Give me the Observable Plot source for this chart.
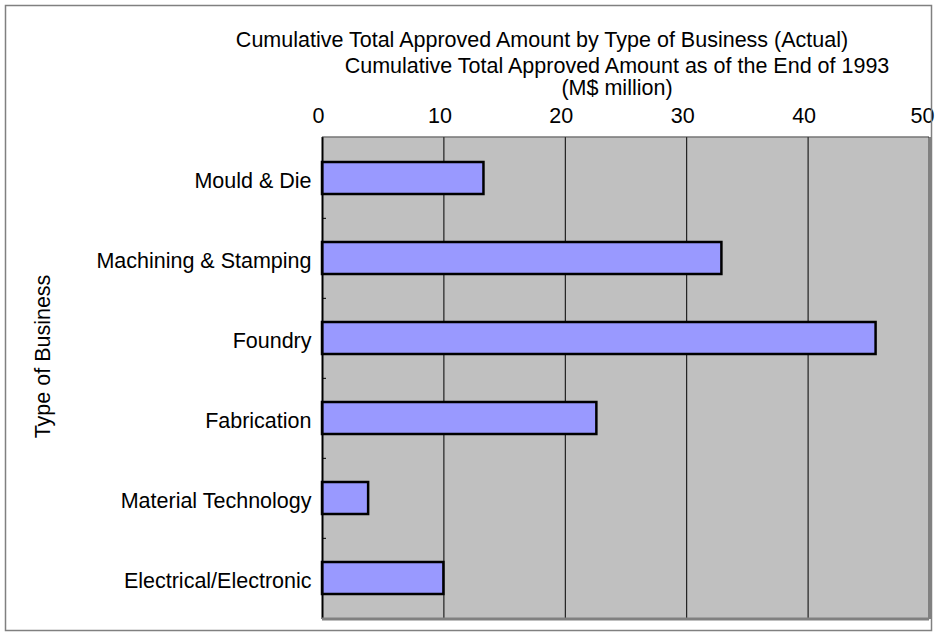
<!DOCTYPE html>
<html>
<head>
<meta charset="utf-8">
<script src="https://cdn.jsdelivr.net/npm/d3@7"></script>
<script src="https://cdn.jsdelivr.net/npm/@observablehq/plot@0.6"></script>
<style>
  html, body { margin: 0; padding: 0; background: white; }
</style>
</head>
<body>
<div id="chart"></div>
<script>
const categories = ["Mould & Die", "Machining & Stamping", "Foundry", "Fabrication", "Material Technology", "Electrical/Electronic"];
const values = [13.3, 32.9, 45.6, 22.6, 3.8, 10.0];
const xTicks = [0, 10, 20, 30, 40, 50];
const title = "Cumulative Total Approved Amount by Type of Business (Actual)";
const xTitle1 = "Cumulative Total Approved Amount as of the End of 1993";
const xTitle2 = "(M$ million)";
const yTitle = "Type of Business";

const data = categories.map((c, i) => ({category: c, value: values[i]}));

const W = 937, H = 635, mt = 137, mb = 16, ml = 322, mr = 8;
const step = (H - mt - mb) / categories.length;

const plot = Plot.plot({
  width: W, height: H,
  marginLeft: ml, marginRight: mr, marginTop: mt, marginBottom: mb,
  style: {fontFamily: "'Liberation Sans', Arial, sans-serif", fontSize: "21.5px", color: "black", background: "white"},
  x: {domain: [0, 50]},
  y: {domain: categories, paddingInner: 0.6, paddingOuter: 0.3},
  marks: [
    Plot.frame({fill: "#c0c0c0"}),
    Plot.gridX(xTicks.slice(1, -1), {stroke: "black", strokeOpacity: 1, strokeWidth: 1}),
    Plot.ruleX([50], {stroke: "#808080", strokeWidth: 3}),
    Plot.ruleY(categories.slice(1), {y: d => d, x1: 0, x2: 0.33, dy: -step / 2, stroke: "black", strokeWidth: 1}),
    Plot.barX(data, {x: "value", y: "category", fill: "#9999ff", stroke: "black", strokeWidth: 2.5}),
    Plot.ruleX([0], {stroke: "black", strokeWidth: 2}),
    Plot.axisX(xTicks.slice(0, -1), {anchor: "top", tickSize: 0, tickPadding: 15, dx: -4, label: null}),
    Plot.axisX(xTicks.slice(-1), {anchor: "top", tickSize: 0, tickPadding: 15, textAnchor: "end", dx: 5, label: null}),
    Plot.axisY({tickSize: 0, tickPadding: 11, dy: 3, label: null}),
    Plot.text([title], {frameAnchor: "top", dx: -84, dy: -97, lineAnchor: "middle", fill: "black"}),
    Plot.text([xTitle1], {frameAnchor: "top", dx: -9, dy: -71, lineAnchor: "middle", fill: "black"}),
    Plot.text([xTitle2], {frameAnchor: "top", dx: -9, dy: -49, lineAnchor: "middle", fill: "black"}),
    Plot.text([yTitle], {frameAnchor: "left", dx: 43 - ml, dy: -22, rotate: -90, textAnchor: "middle", lineAnchor: "middle", fill: "black"})
  ]
});

const svg = d3.select(plot);
// bottom gray edge and top dark edge of plot area
svg.append("line").attr("x1", ml).attr("x2", W - mr).attr("y1", H - mb).attr("y2", H - mb)
  .attr("stroke", "#808080").attr("stroke-width", 3);
svg.append("line").attr("x1", ml).attr("x2", W - mr).attr("y1", mt).attr("y2", mt)
  .attr("stroke", "#333").attr("stroke-width", 1.2);
// outer chart border
svg.append("rect").attr("x", 5.5).attr("y", 5.5).attr("width", W - 11).attr("height", H - 10)
  .attr("fill", "none").attr("stroke", "#808080").attr("stroke-width", 1.5);

document.getElementById("chart").appendChild(plot);
</script>
</body>
</html>
